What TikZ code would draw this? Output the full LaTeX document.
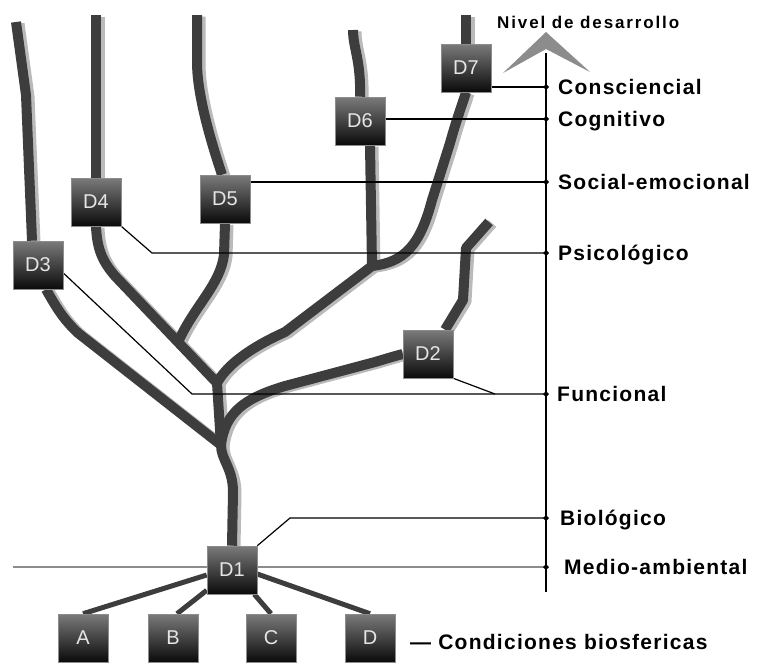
\documentclass[tikz,border=0pt]{standalone}
\usepackage{fontspec}
\setmainfont{Liberation Sans}
\newfontfamily\lblfont[LetterSpace=6]{Liberation Sans}
\newfontfamily\titfont[LetterSpace=11]{Liberation Sans}
\begin{document}
\begin{tikzpicture}[x=1pt,y=-1pt,
  box/.style={draw=black!45, line width=0.6pt, top color=black!52, bottom color=black!96,
    minimum width=50pt, minimum height=48pt, inner sep=0pt, text=white!90!black,
    font=\fontsize{20}{20}\selectfont},
  branch/.style={draw=black!76, line width=10pt, line join=round},
  shadowline/.style={draw=black!27, line width=10pt, line join=round},
  root/.style={draw=black!76, line width=5pt},
  thin/.style={draw=black, line width=1.2pt},
  ground/.style={draw=black!45, line width=1.2pt},
  lbl/.style={anchor=base west, inner sep=0pt, font=\lblfont\bfseries\fontsize{21}{21}\selectfont},
  tick/.style={fill=black}
]
\useasboundingbox (0,0) rectangle (759,662);

% level coordinates on the axis
\coordinate (axtop) at (546,53);
\coordinate (axbot) at (546,592);
\coordinate (cons) at (546,87);
\coordinate (cog) at (546,119);
\coordinate (soc) at (546,182);
\coordinate (psi) at (546,253);
\coordinate (fun) at (546,394);
\coordinate (bio) at (546,518);
\coordinate (med) at (546,567);
\coordinate (mleft) at (13,567);

% junctions and bends
\coordinate (jA) at (221,445);
\coordinate (jB) at (217,383);
\coordinate (jC) at (372,266);
\coordinate (jD) at (178,342);
\coordinate (kD4) at (152,253);
\coordinate (kD3) at (192,394);
\coordinate (kD2) at (495,394);
\coordinate (kD1) at (290,518);

% boxes (positions only; drawn later)
\path (232,570) node[box] (D1) {D1};
\path (428,354) node[box] (D2) {D2};
\path (38,265) node[box] (D3) {D3};
\path (96,202) node[box] (D4) {D4};
\path (225,199) node[box] (D5) {D5};
\path (360,121) node[box] (D6) {D6};
\path (466,68) node[box] (D7) {D7};
\path (83,638) node[box] (A) {A};
\path (173,638) node[box] (B) {B};
\path (271,638) node[box] (C) {C};
\path (370,638) node[box] (D) {D};

% arrow head of the axis
\fill[black!45] (503,73) -- (546,32) -- (590,72) -- (546,49) -- cycle;
\node[anchor=base west, inner sep=0pt, font=\titfont\bfseries\fontsize{17}{17}\selectfont] (nivel) at (497,28) {Nivel de desarrollo};

% ground line and axis
\draw[ground] (mleft) -- (med);
\draw[thin] (axtop) -- (axbot);

\newcommand\treepaths[1]{%
  \draw[#1] (D1.north) -- (233,492) .. controls (233,468) and (221,460) .. (jA) -- (jB);
  \draw[#1] ([xshift=8pt]D3.south) .. controls (55,305) and (62,318) .. (78,333) -- (jA);
  \draw[#1] (jA) .. controls (225,412) and (245,398) .. (285,386) -- (375,362) .. controls (385,359) and (395,356) .. (D2.west);
  \draw[#1] ([xshift=17pt]D2.north) -- (463,300) -- (466,248) -- (489,222);
  \draw[#1] (D4.south) .. controls (97,250) and (103,262) .. (115,276) -- (jB);
  \draw[#1] (D5.south) -- (224,255) .. controls (220,285) and (195,305) .. (jD);
  \draw[#1] (jB) .. controls (225,368) and (245,350) .. (285,332) -- (jC);
  \draw[#1] ([xshift=10pt]D6.south) -- (jC);
  \draw[#1] (jC) .. controls (405,262) and (420,245) .. (432,200) -- (450,143) .. controls (457,118) and (462,105) .. (D7.south);
  \draw[#1] ([xshift=-6pt]D3.north) -- (26,95) -- (16,22);
  \draw[#1] (D4.north) -- (96,15);
  \draw[#1] ([xshift=-3pt]D5.north) .. controls (207,130) and (197,90) .. (197,62) -- (197,15);
  \draw[#1] (D6.north) .. controls (361,60) and (353,48) .. (353,30);
  \draw[#1] (D7.north) -- (466,15);
}

\begin{scope}[transform canvas={xshift=3.5pt,yshift=-1.5pt}]
  \treepaths{shadowline}
\end{scope}
\treepaths{branch}

% roots
\draw[root] ([yshift=-5pt]D1.west) -- (A.north);
\draw[root] ([yshift=4pt]D1.south west) -- ([xshift=4pt]B.north);
\draw[root] ([xshift=-3pt]D1.south east) -- (C.north);
\draw[root] ([yshift=-4pt]D1.east) -- (D.north);

% connectors to the levels
\draw[thin] (D7.east |- cons) -- (cons);
\draw[thin] (D6.east |- cog) -- (cog);
\draw[thin] (D5.east |- soc) -- (soc);
\draw[thin] (D4.south east) -- (kD4) -- (psi);
\draw[thin] ([yshift=-8pt]D3.east) -- (kD3) -- (fun);
\draw[thin] (D2.south east) -- (kD2);
\draw[thin] (D1.north east) -- (kD1) -- (bio);

% boxes on top
\foreach \n/\t in {D1/D1,D2/D2,D3/D3,D4/D4,D5/D5,D6/D6,D7/D7,A/A,B/B,C/C,D/D}
  \path (\n.center) node[box] {\t};

% ticks
\foreach \c in {cons,cog,soc,psi,fun,bio,med}
  \fill[tick] (\c) +(-3,0) -- +(0,-3) -- +(3,0) -- +(0,3) -- cycle;

% labels
\node[lbl] (lcons) at (558,94) {Consciencial};
\node[lbl] (lcog) at (558,126) {Cognitivo};
\node[lbl] (lsoc) at (558,189) {Social-emocional};
\node[lbl] (lpsi) at (558,260) {Psicológico};
\node[lbl] (lfun) at (557,401) {Funcional};
\node[lbl] (lbio) at (560,525) {Biológico};
\node[lbl] (lmed) at (564,574) {Medio-ambiental};
\node[lbl] (lcond) at (410,649) {— Condiciones biosfericas};
\end{tikzpicture}
\end{document}
